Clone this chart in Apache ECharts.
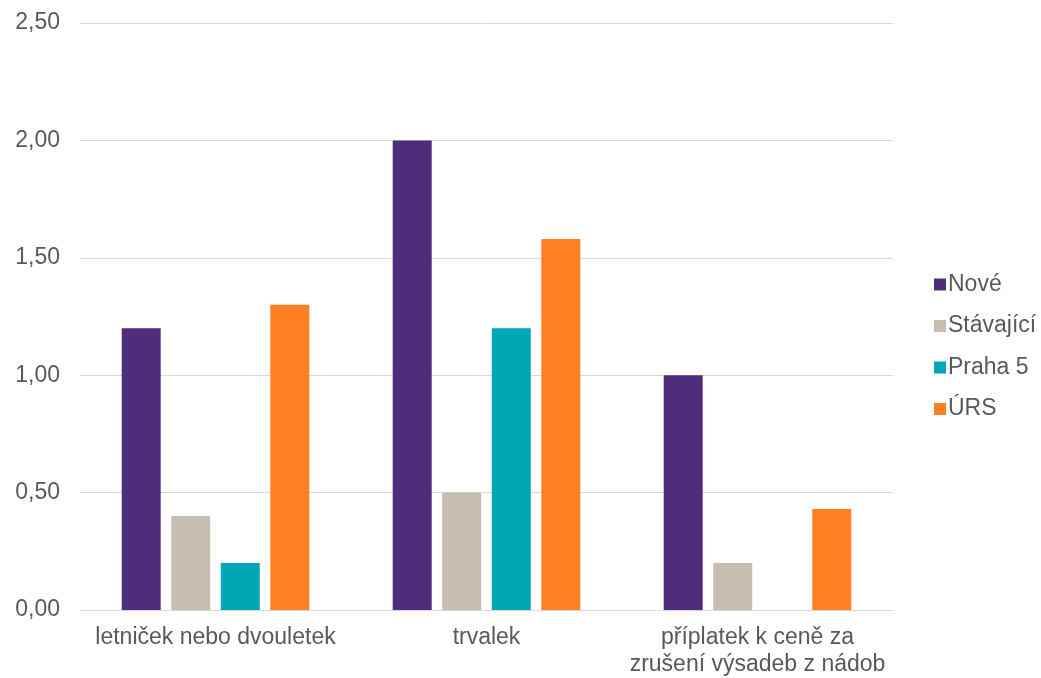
<!DOCTYPE html>
<html><head><meta charset="utf-8">
<script src="https://cdn.jsdelivr.net/npm/echarts@6/dist/echarts.min.js"></script>
<style>html,body{margin:0;padding:0;background:#fff}#c{width:1041px;height:678px}</style>
</head><body><div id="c"></div>
<script>
const categories = ['letniček nebo dvouletek', 'trvalek', 'příplatek k ceně za\nzrušení výsadeb z nádob'];
const seriesNames = ['Nové', 'Stávající', 'Praha 5', 'ÚRS'];
const nove = [1.20, 2.00, 1.00];
const stavajici = [0.40, 0.50, 0.20];
const praha5 = [0.20, 1.20, null];
const urs = [1.30, 1.58, 0.43];
const colors = ['#4E2D7B', '#C6BEB1', '#00A8B5', '#FF7F21'];
const values = [nove, stavajici, praha5, urs];

const chart = echarts.init(document.getElementById('c'), null, {renderer: 'canvas'});
const font = 'Liberation Sans, Arial, sans-serif';
chart.setOption({
  animation: false,
  color: colors,
  grid: {left: 80, right: 148, top: 23, bottom: 67, containLabel: false},
  legend: {
    orient: 'vertical', left: 929, top: 267, itemWidth: 12, itemHeight: 12, itemGap: 16.5,
    icon: 'rect',
    textStyle: {fontFamily: font, fontSize: 23, lineHeight: 25, color: '#595959', padding: [0,0,0,-3]},
    data: seriesNames
  },
  xAxis: {
    type: 'category', data: categories,
    axisLine: {lineStyle: {color: '#D9D9D9', width: 1}},
    axisTick: {show: false},
    axisLabel: {fontFamily: font, fontSize: 23, color: '#595959', margin: 14, lineHeight: 27, interval: 0}
  },
  yAxis: {
    type: 'value', min: 0, max: 2.5, interval: 0.5,
    axisLine: {show: false}, axisTick: {show: false},
    splitLine: {lineStyle: {color: '#D9D9D9', width: 1}},
    axisLabel: {fontFamily: font, fontSize: 23, color: '#595959', margin: 20,
      formatter: v => v.toFixed(2).replace('.', ',')}
  },
  series: seriesNames.map((n, i) => ({
    name: n, type: 'bar', data: values[i], barWidth: 39, barGap: '27%'
  }))
});
</script></body></html>
